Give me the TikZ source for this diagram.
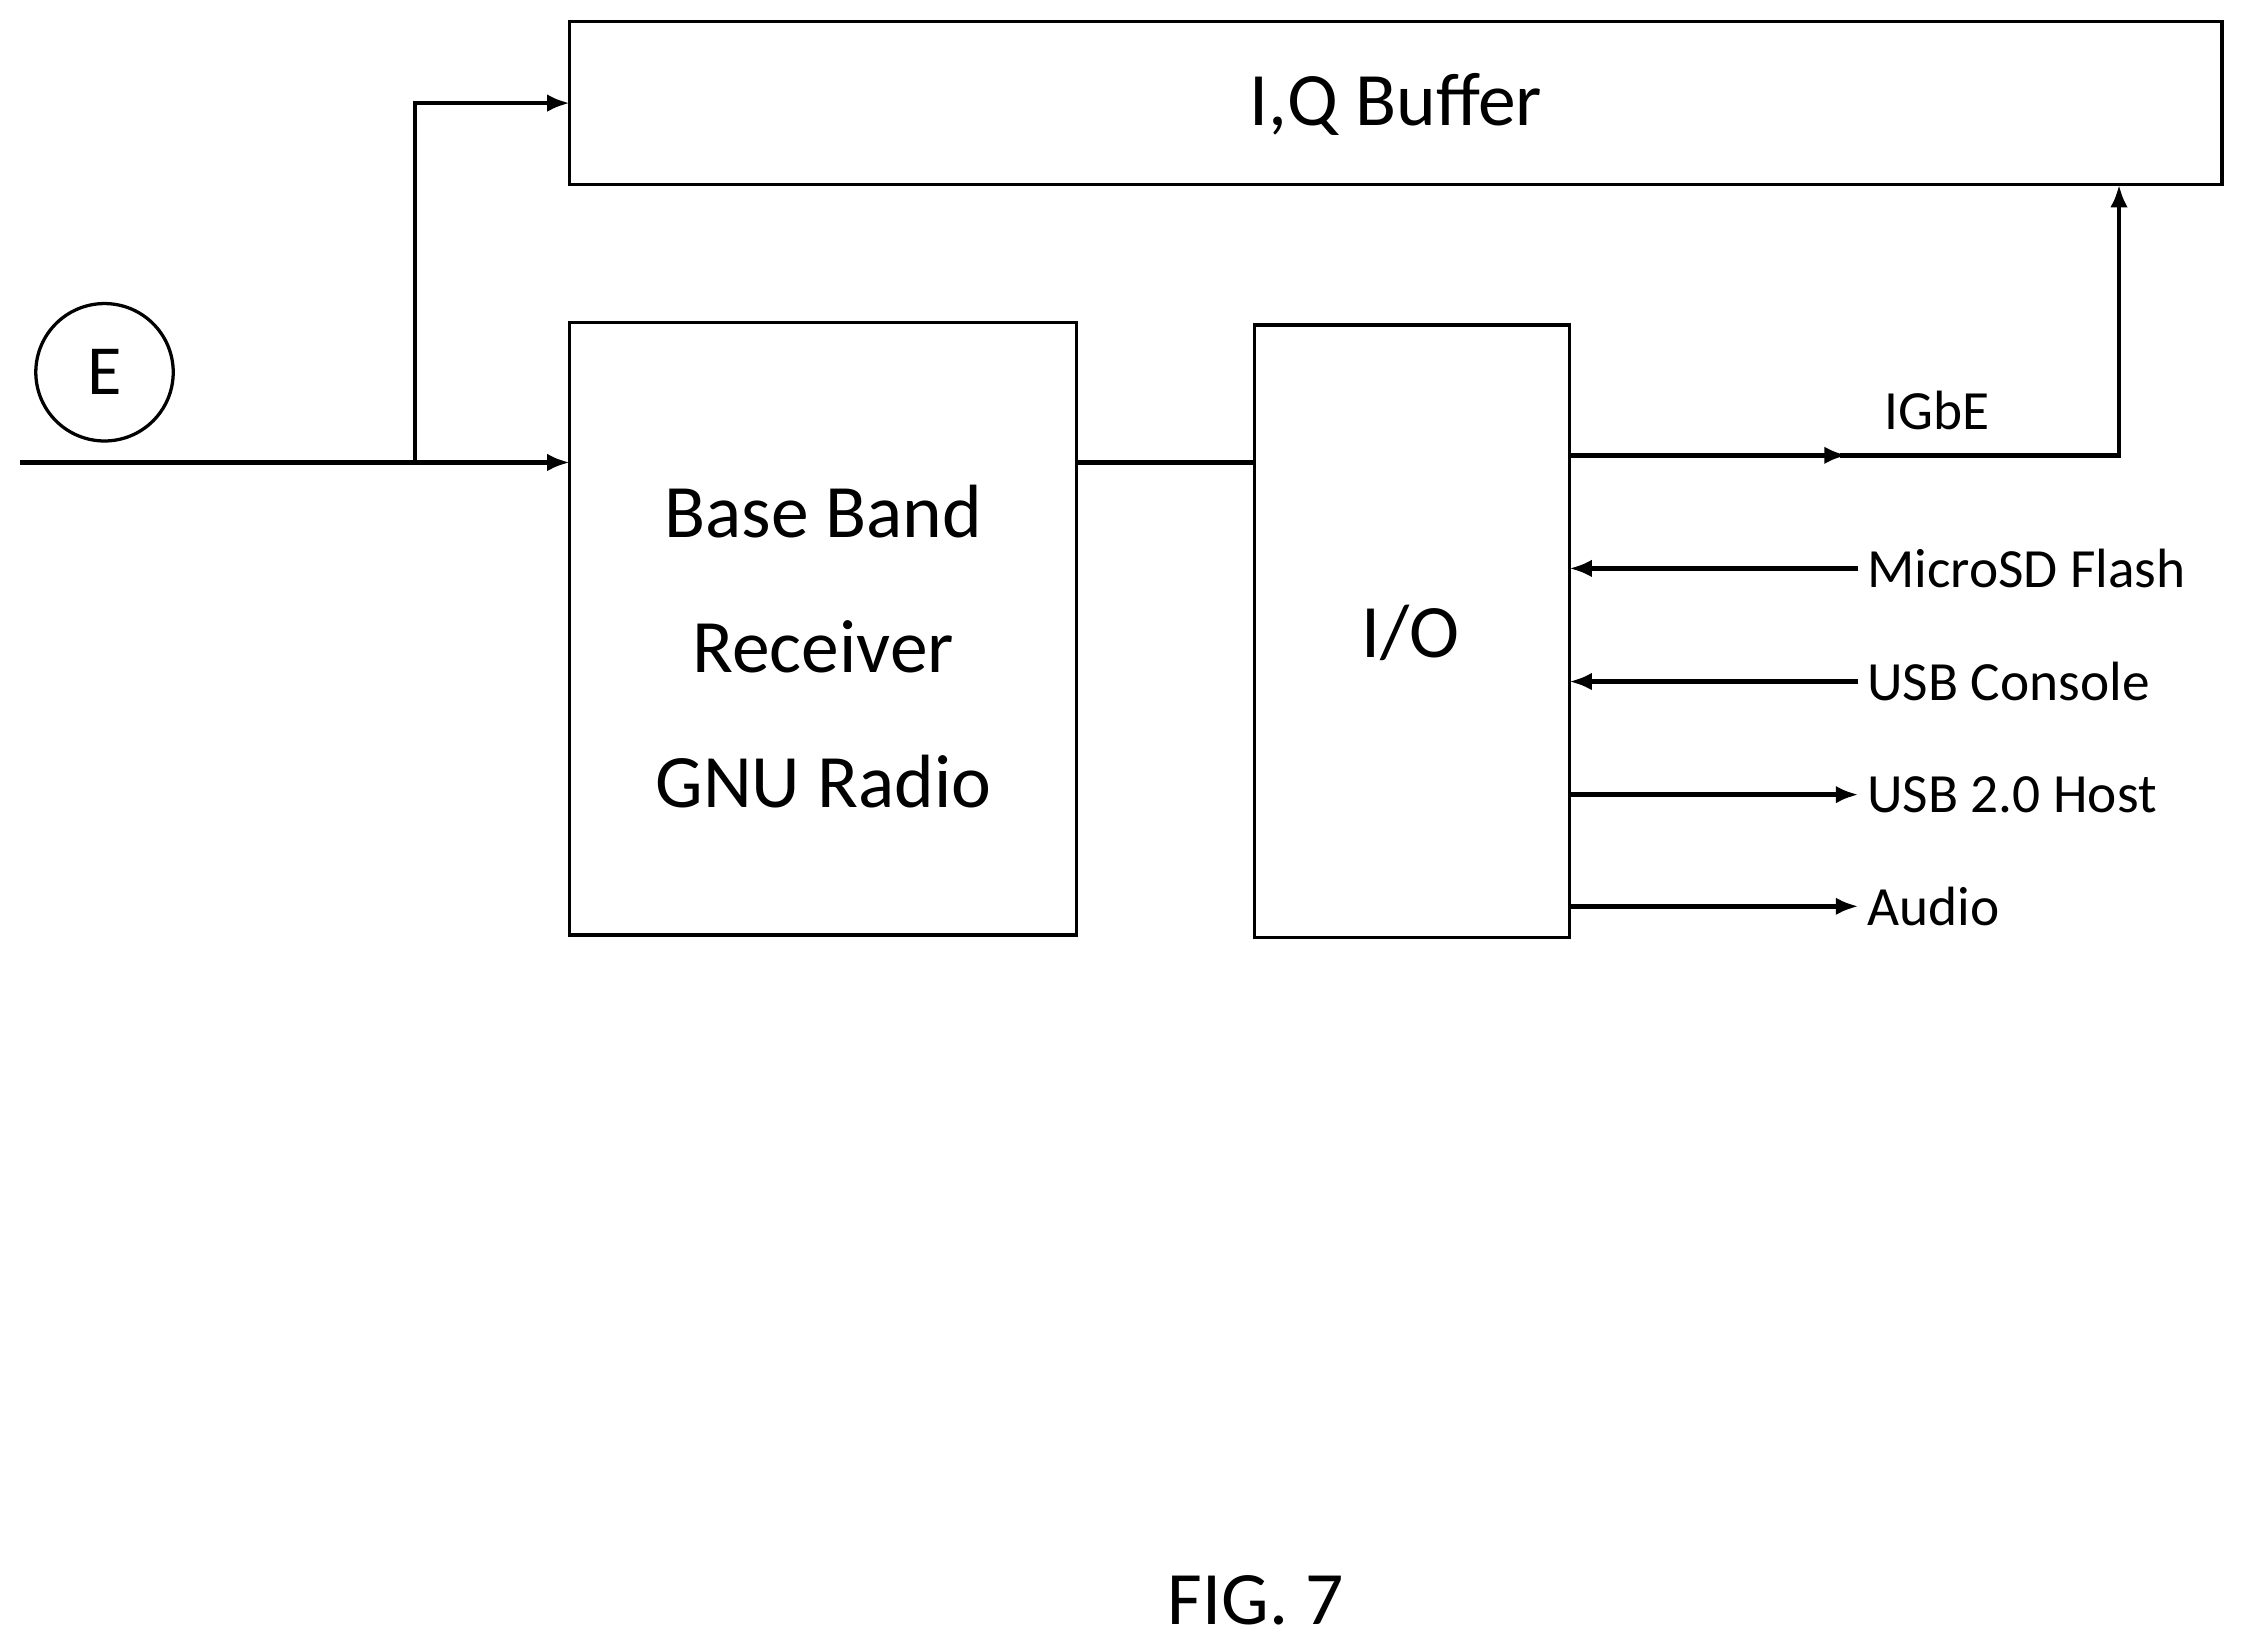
\documentclass[tikz,border=0pt]{standalone}
\usepackage{fontspec}
\setmainfont{Carlito}
\usetikzlibrary{arrows.meta}
\begin{document}
\begin{tikzpicture}[x=0.02cm,y=-0.02cm,
  box/.style={draw,line width=1.3pt,inner sep=0pt},
  wire/.style={line width=1.8pt},
  arr/.style={wire,-{Latex[length=9pt,width=7pt]}},
  big/.style={font=\fontsize{30}{36}\selectfont},
  lbl/.style={font=\fontsize{22}{26}\selectfont,anchor=west}]
\useasboundingbox (0,0) rectangle (1568,1150);
\draw[box] (398,15) rectangle (1552,129);
\node[big] (iq) at (975,73) {I,Q Buffer};
\coordinate (iqb) at (1480,129);
\draw[box] (398,225) rectangle (752,653);
\node[big] (bb1) at (575,357) {Base Band};
\node[big] (bb2) at (575,452) {Receiver};
\node[big] (bb3) at (575,546) {GNU Radio};
\draw[box] (876,227) rectangle (1096,655);
\node[big] (io) at (985,442) {I/O};
\node[draw,circle,line width=1.3pt,minimum size=96\pgflinewidth,inner sep=0pt,minimum size=1.92cm,font=\fontsize{28}{32}\selectfont] (e) at (73,260) {E};
\coordinate (s) at (14,323);
\coordinate (br) at (290,323);
\draw[arr] (s) -- (398,323);
\draw[arr] (br) -- (290,72) -- (398,72);
\draw[wire] (752,323) -- (876,323);
\draw[arr] (1096,318) -- (1290,318);
\draw[arr] (1285,318) -- (1480,318) -- (iqb);
\node[lbl] (ig) at (1310,287) {IGbE};
\node[lbl] (ms) at (1298,397) {MicroSD Flash};
\draw[arr] (ms.west) -- (1096,397);
\node[lbl] (uc) at (1298,476) {USB Console};
\draw[arr] (uc.west) -- (1096,476);
\node[lbl] (uh) at (1298,555) {USB 2.0 Host};
\draw[arr] (1096,555) -- (uh.west);
\node[lbl] (au) at (1298,633) {Audio};
\draw[arr] (1096,633) -- (au.west);
\node[big] (fig) at (877,1118) {FIG. 7};
\end{tikzpicture}
\end{document}
